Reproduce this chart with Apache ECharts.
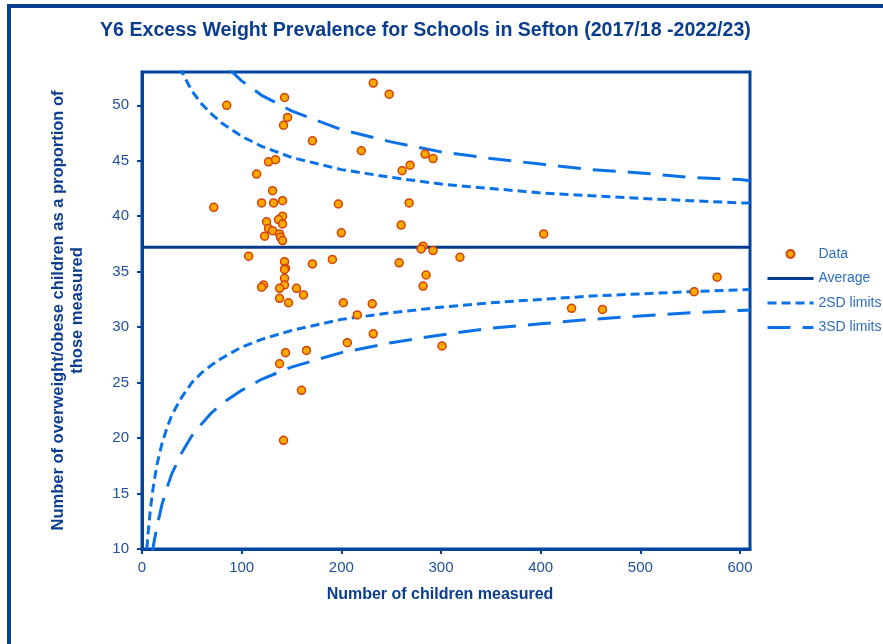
<!DOCTYPE html>
<html><head><meta charset="utf-8">
<script src="https://cdn.jsdelivr.net/npm/echarts@6/dist/echarts.min.js"></script>
<style>html,body{margin:0;padding:0;background:#fff}#c{width:883px;height:644px}</style>
</head><body><div id="c"></div>
<script>
const titleText = 'Y6 Excess Weight Prevalence for Schools in Sefton (2017/18 -2022/23)';
const xAxisTitle = 'Number of children measured';
const yAxisTitle = 'Number of overweight/obese children as a proportion of\nthose measured';
const xTicks = [0, 100, 200, 300, 400, 500, 600];
const yTicks = [10, 15, 20, 25, 30, 35, 40, 45, 50];
const legendNames = ['Data', 'Average', '2SD limits', '3SD limits'];

// school points: number measured, % overweight/obese
const childrenMeasured = [85, 143, 146, 142, 171, 127, 134, 115, 131, 72, 120, 132, 141, 141, 137, 141, 125, 127, 131, 123, 138, 139, 141, 197, 200, 232, 248, 220, 284, 292, 269, 261, 268, 260, 107, 143, 144, 143, 143, 143, 138, 122, 120, 155, 162, 138, 147, 171, 191, 258, 282, 280, 292, 319, 285, 282, 202, 231, 216, 206, 232, 301, 144, 165, 138, 160, 142, 403, 431, 462, 554, 577];
const excessWeightPct = [50.0, 50.7, 48.9, 48.2, 46.8, 44.9, 45.1, 43.8, 42.3, 40.8, 41.2, 41.2, 41.4, 40.0, 39.7, 39.3, 39.5, 38.9, 38.7, 38.2, 38.4, 38.1, 37.8, 41.1, 38.5, 52.0, 51.0, 45.9, 45.6, 45.2, 44.6, 44.1, 41.2, 39.2, 36.4, 35.9, 35.3, 35.2, 34.4, 33.8, 33.5, 33.8, 33.6, 33.5, 32.9, 32.6, 32.2, 35.7, 36.1, 35.8, 37.3, 37.05, 36.9, 36.3, 34.7, 33.7, 32.2, 32.1, 31.1, 28.6, 29.4, 28.3, 27.7, 27.9, 26.7, 24.3, 19.8, 38.4, 31.7, 31.6, 33.2, 34.5];

// average line
const averageX = [0, 610];
const averagePct = 37.2;

// 2SD limit curve
const sd2N = [4, 5, 6, 8, 10, 12, 15, 20, 25, 30, 40, 50, 60, 70, 80, 100, 120, 150, 200, 250, 300, 350, 400, 450, 500, 550, 600, 610];
const sd2Lower = [8.8, 10.2, 11.3, 13.2, 14.8, 16.0, 17.6, 19.5, 20.9, 22.1, 23.7, 25.0, 25.9, 26.6, 27.2, 28.2, 28.9, 29.7, 30.7, 31.3, 31.8, 32.2, 32.5, 32.8, 33.0, 33.2, 33.35, 33.4];
const sd2Upper = [78.4, 75.6, 73.3, 69.7, 67.0, 64.8, 62.2, 59.2, 57.0, 55.4, 53.0, 51.3, 50.1, 49.2, 48.4, 47.2, 46.3, 45.3, 44.2, 43.5, 42.9, 42.5, 42.1, 41.85, 41.6, 41.4, 41.2, 41.2];

// 3SD limit curve
const sd3N = [10, 11, 12, 15, 20, 25, 30, 40, 50, 60, 70, 80, 100, 120, 150, 200, 250, 300, 350, 400, 450, 500, 550, 600, 610];
const sd3Lower = [9.5, 10.0, 10.6, 12.0, 14.0, 15.5, 16.8, 18.7, 20.2, 21.3, 22.3, 23.1, 24.3, 25.3, 26.4, 27.7, 28.6, 29.3, 29.9, 30.3, 30.7, 31.0, 31.3, 31.5, 31.55];
const sd3Upper = [77.1, 75.9, 74.8, 72.0, 68.4, 65.7, 63.6, 60.4, 58.1, 56.4, 55.0, 53.9, 52.2, 50.9, 49.5, 47.8, 46.7, 45.8, 45.2, 44.7, 44.2, 43.9, 43.5, 43.3, 43.2];

const FONT = '"Liberation Sans", Arial, sans-serif';
const DARK = '#0b3d8f';
const BORDER = '#00449e';
const LABEL = '#1f4f9f';
const LIMIT = '#0a72e6';
const AVG = '#003a8c';

const pairs = (xs, ys) => xs.map((x, i) => [x, ys[i]]);
const hiddenSymbol = {color: 'transparent', borderColor: 'transparent', borderWidth: 0, opacity: 0};

const chart = echarts.init(document.getElementById('c'), null, {renderer: 'canvas'});
chart.setOption({
  animation: false,
  backgroundColor: '#ffffff',
  graphic: [{
    type: 'rect', z: 100, silent: true,
    shape: {x: 9, y: 6, width: 1200, height: 1200},
    style: {fill: 'none', stroke: '#0b3f8f', lineWidth: 4}
  }],
  title: {
    text: titleText, left: 100, top: 21, padding: 0,
    textStyle: {fontFamily: FONT, fontSize: 19.6, fontWeight: 'bold', color: DARK}
  },
  grid: {
    left: 142, top: 72, width: 608, height: 477,
    show: true, borderColor: BORDER, borderWidth: 3, backgroundColor: 'transparent'
  },
  legend: {
    orient: 'vertical', left: 766, top: 247, padding: 0,
    itemWidth: 46, itemHeight: 8, itemGap: 10.5,
    data: [
      {name: legendNames[0]},
      {name: legendNames[1], itemStyle: hiddenSymbol, lineStyle: {color: AVG, width: 3, type: 'solid'}},
      {name: legendNames[2], itemStyle: hiddenSymbol, lineStyle: {color: LIMIT, width: 3, type: [9, 5]}},
      {name: legendNames[3], itemStyle: hiddenSymbol, lineStyle: {color: LIMIT, width: 3, type: [23, 12]}}
    ],
    textStyle: {fontFamily: FONT, fontSize: 14, color: '#2f6dc2'}
  },
  xAxis: {
    type: 'value', min: 0, max: 610, interval: 100,
    name: xAxisTitle, nameLocation: 'middle', nameGap: 38,
    nameTextStyle: {fontFamily: FONT, fontSize: 16, fontWeight: 'bold', color: DARK, padding: [0, 12, 0, 0]},
    axisLine: {show: true, onZero: false, lineStyle: {color: BORDER, width: 3}},
    axisTick: {show: true, length: 5, lineStyle: {color: BORDER, width: 2}, customValues: xTicks},
    axisLabel: {customValues: xTicks, margin: 11, fontFamily: FONT, fontSize: 15, color: LABEL},
    splitLine: {show: false}
  },
  yAxis: {
    type: 'value', min: 10, max: 53, interval: 5,
    name: yAxisTitle, nameLocation: 'middle', nameGap: 55, nameRotate: 90,
    nameTextStyle: {fontFamily: FONT, fontSize: 16.5, fontWeight: 'bold', color: DARK, lineHeight: 19, align: 'center'},
    axisLine: {show: true, onZero: false, lineStyle: {color: BORDER, width: 3}},
    axisTick: {show: true, length: 5, lineStyle: {color: BORDER, width: 2}, customValues: yTicks},
    axisLabel: {customValues: yTicks, margin: 13, fontFamily: FONT, fontSize: 15, color: LABEL},
    splitLine: {show: false}
  },
  series: [
    {
      name: 'Data', type: 'scatter', z: 5,
      data: pairs(childrenMeasured, excessWeightPct),
      symbol: 'circle', symbolSize: 8,
      itemStyle: {color: '#ffa800', borderColor: '#d2420a', borderWidth: 1.5, opacity: 1}
    },
    {
      name: 'Average', type: 'line', z: 3, symbol: 'none',
      data: averageX.map(x => [x, averagePct]),
      lineStyle: {color: AVG, width: 3, type: 'solid'},
      itemStyle: {color: AVG}
    },
    {
      name: '2SD limits', type: 'line', z: 3, symbol: 'none',
      data: pairs(sd2N, sd2Upper),
      lineStyle: {color: LIMIT, width: 3, type: [9, 5]}, itemStyle: {color: LIMIT}
    },
    {
      name: '2SD limits', type: 'line', z: 3, symbol: 'none',
      data: pairs(sd2N, sd2Lower),
      lineStyle: {color: LIMIT, width: 3, type: [9, 5]}, itemStyle: {color: LIMIT}
    },
    {
      name: '3SD limits', type: 'line', z: 3, symbol: 'none',
      data: pairs(sd3N, sd3Upper),
      lineStyle: {color: LIMIT, width: 3, type: [23, 12]}, itemStyle: {color: LIMIT}
    },
    {
      name: '3SD limits', type: 'line', z: 3, symbol: 'none',
      data: pairs(sd3N, sd3Lower),
      lineStyle: {color: LIMIT, width: 3, type: [23, 12]}, itemStyle: {color: LIMIT}
    }
  ]
});
</script>
</body></html>
